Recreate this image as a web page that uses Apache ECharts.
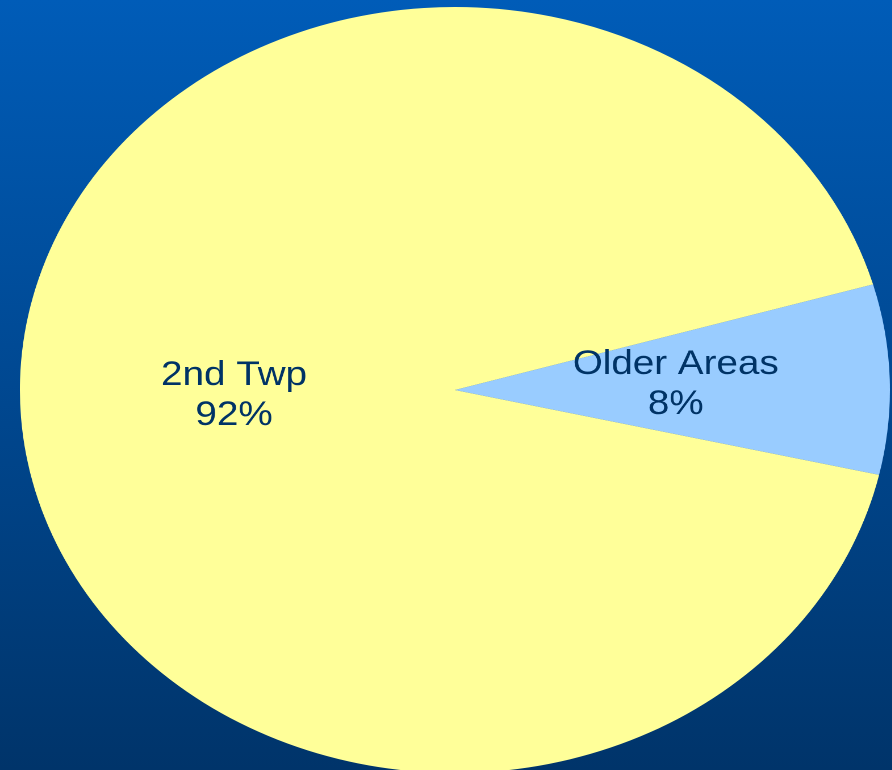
<!DOCTYPE html>
<html>
<head>
<meta charset="utf-8">
<script src="https://cdn.jsdelivr.net/npm/echarts@6/dist/echarts.min.js"></script>
<style>
  html, body { margin: 0; padding: 0; width: 892px; height: 770px; overflow: hidden; }
  body { background: linear-gradient(to bottom, #005CB8 0%, #00346A 100%); }
  /* The pie is drawn as a circle and stretched sideways into an ellipse */
  #chart { width: 785px; height: 770px; transform: scaleX(1.1358); transform-origin: 0 0; }
</style>
</head>
<body>
<div id="chart"></div>
<script>
const categories = ['Older Areas', '2nd Twp'];
const shares = [8, 92];
const sliceColors = ['#99CCFF', '#FFFF99'];

const chart = echarts.init(document.getElementById('chart'), null, { renderer: 'canvas', devicePixelRatio: 2 });

chart.setOption({
  backgroundColor: 'transparent',
  animation: false,
  series: [{
    type: 'pie',
    center: [400.5, 390],
    radius: [0, 383],
    startAngle: 16,
    clockwise: true,
    avoidLabelOverlap: false,
    emphasis: { disabled: true },
    itemStyle: { borderWidth: 0 },
    label: {
      show: true,
      position: 'inside',
      formatter: '{b}\n{d}%',
      color: '#003366',
      fontFamily: 'Liberation Sans, Arial, sans-serif',
      fontSize: 34,
      lineHeight: 40,
      align: 'center'
    },
    labelLine: { show: false },
    data: categories.map((name, i) => ({
      name: name,
      value: shares[i],
      itemStyle: { color: sliceColors[i] }
    }))
  }]
});
</script>
</body>
</html>
